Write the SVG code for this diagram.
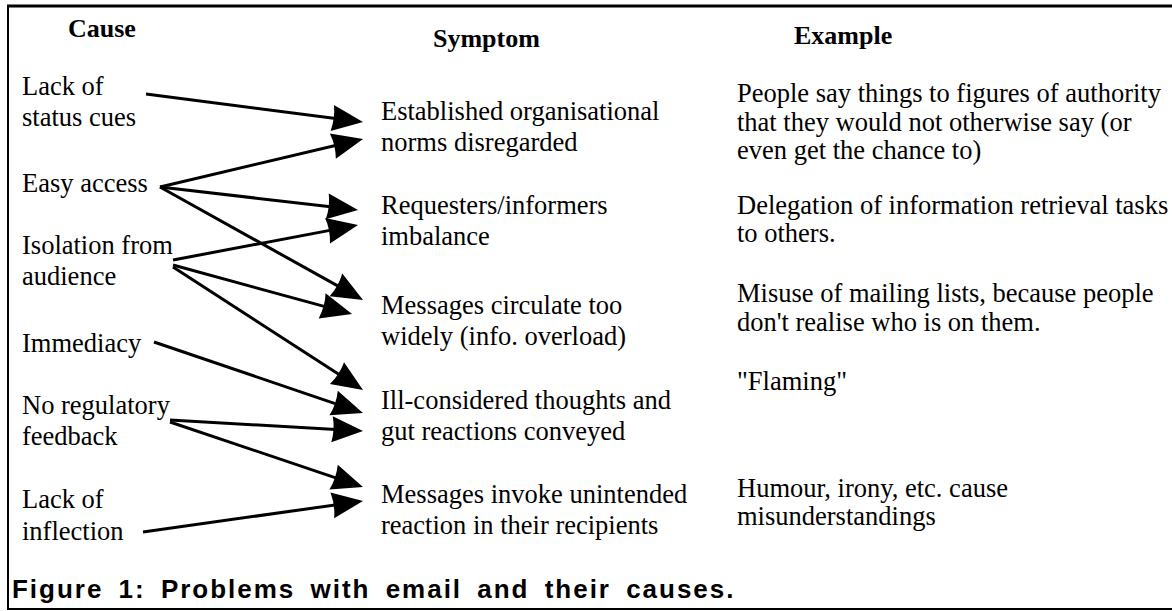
<svg xmlns="http://www.w3.org/2000/svg" width="1172" height="611" viewBox="0 0 1172 611">
<style>
text{font-family:"Liberation Serif","Times New Roman",serif;font-size:26.5px;fill:#000}
.h{font-weight:bold;font-size:26px}
.cap{font-family:"Liberation Sans",Arial,sans-serif;font-weight:bold;font-size:26px;letter-spacing:1.5px;word-spacing:6px}
.c line{stroke:#000;stroke-width:3;marker-end:url(#ah)}
</style>
<defs>
<marker id="ah" markerUnits="userSpaceOnUse" markerWidth="34" markerHeight="28" refX="21" refY="13" orient="auto" overflow="visible">
<path d="M31,13 L0,0 Q3,13 0,26 Z" fill="#000"/>
</marker>
</defs>
<rect width="1172" height="611" fill="#fff"/>
<g id="frame" stroke="#000" fill="none">
<line x1="7" y1="6" x2="1172" y2="6" stroke-width="3"/>
<line x1="8" y1="5" x2="8" y2="610" stroke-width="2"/>
<line x1="7" y1="609" x2="1172" y2="609" stroke-width="2"/>
</g>
<g id="headers">
<text class="h" x="68" y="37">Cause</text>
<text class="h" x="433" y="47">Symptom</text>
<text class="h" x="794" y="44">Example</text>
</g>
<g id="cause-status"><text x="22" y="95">Lack of</text><text x="22" y="126">status cues</text></g>
<g id="cause-access"><text x="22" y="192">Easy access</text></g>
<g id="cause-isolation"><text x="22" y="254">Isolation from</text><text x="22" y="285">audience</text></g>
<g id="cause-immediacy"><text x="22" y="352">Immediacy</text></g>
<g id="cause-feedback"><text x="22" y="414">No regulatory</text><text x="22" y="445">feedback</text></g>
<g id="cause-inflection"><text x="22" y="508">Lack of</text><text x="22" y="540">inflection</text></g>
<g id="sym-norms"><text x="381" y="120">Established organisational</text><text x="381" y="151">norms disregarded</text></g>
<g id="sym-imbalance"><text x="381" y="214">Requesters/informers</text><text x="381" y="245">imbalance</text></g>
<g id="sym-overload"><text x="381" y="314">Messages circulate too</text><text x="381" y="345">widely (info. overload)</text></g>
<g id="sym-flaming"><text x="381" y="409">Ill-considered thoughts and</text><text x="381" y="440">gut reactions conveyed</text></g>
<g id="sym-reaction"><text x="381" y="503">Messages invoke unintended</text><text x="381" y="534">reaction in their recipients</text></g>
<g id="ex-authority"><text x="737" y="102">People say things to figures of authority</text><text x="737" y="131">that they would not otherwise say (or</text><text x="737" y="159">even get the chance to)</text></g>
<g id="ex-delegation"><text x="737" y="214">Delegation of information retrieval tasks</text><text x="737" y="242">to others.</text></g>
<g id="ex-lists"><text x="737" y="302">Misuse of mailing lists, because people</text><text x="737" y="331">don't realise who is on them.</text></g>
<g id="ex-flaming"><text x="737" y="390">"Flaming"</text></g>
<g id="ex-humour"><text x="737" y="497">Humour, irony, etc. cause</text><text x="737" y="525">misunderstandings</text></g>
<g id="connectors" class="c">
<line x1="146" y1="94" x2="353.1" y2="120.7"/>
<line x1="160" y1="187" x2="353.3" y2="141.3"/>
<line x1="160" y1="187" x2="348.1" y2="208.8"/>
<line x1="173" y1="260" x2="348.2" y2="226.9"/>
<line x1="160" y1="187" x2="354.3" y2="295.1"/>
<line x1="173" y1="265" x2="342.4" y2="311.4"/>
<line x1="173" y1="267" x2="354.6" y2="384.6"/>
<line x1="154" y1="342" x2="353.5" y2="409.8"/>
<line x1="170" y1="420" x2="353.0" y2="430.4"/>
<line x1="170" y1="422" x2="353.5" y2="483.8"/>
<line x1="143" y1="532" x2="353.1" y2="502.4"/>
</g>
<text class="cap" x="12" y="598" textLength="723" lengthAdjust="spacing">Figure 1: Problems with email and their causes.</text>
</svg>
